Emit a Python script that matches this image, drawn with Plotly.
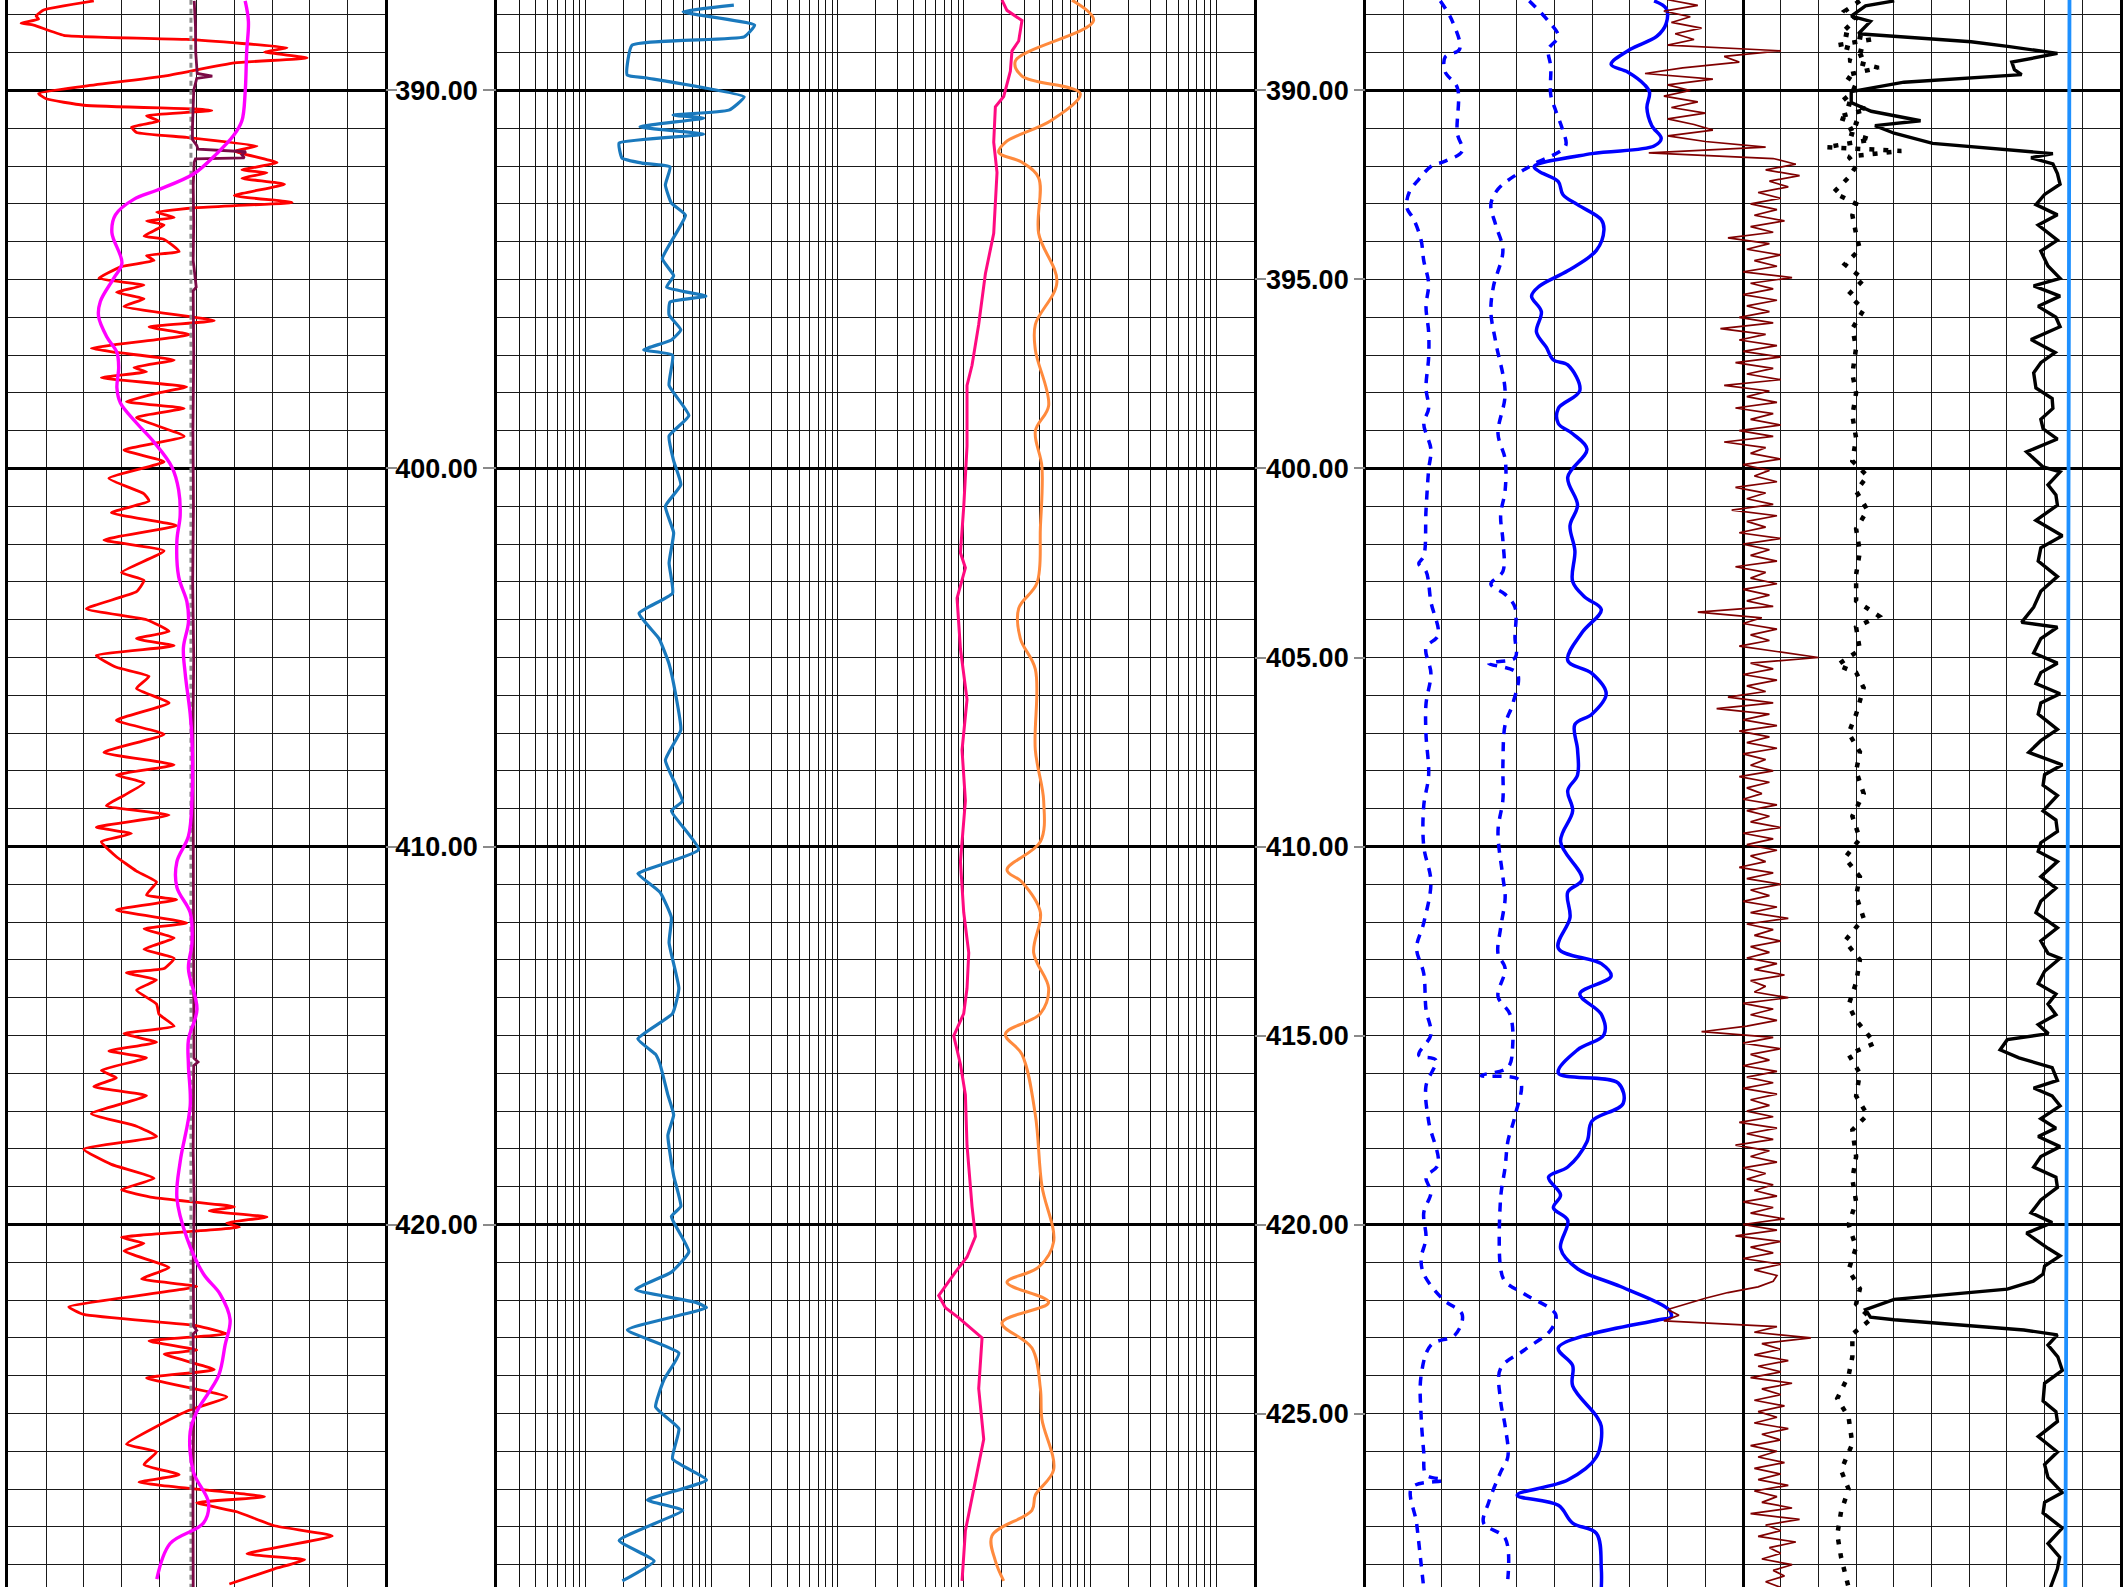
import plotly.graph_objects as go

# ---- depth track setup ----
top_depth = 387.606
bottom_depth = 429.59

# ---- track 1 (linear 0-150) ----
red_depth = [387.63, 387.87, 388.03, 388.11, 388.22, 388.27, 388.54, 388.65, 388.87, 388.98, 389.14, 389.27,
             389.62, 389.89, 390.08, 390.22, 390.39, 390.49, 390.53, 390.67, 390.81, 390.97, 391.11, 391.24,
             391.47, 391.60, 391.91, 392.10, 392.18, 392.32, 392.48, 392.78, 392.96, 393.10, 393.22, 393.36,
             393.45, 393.56, 393.85, 393.94, 394.26, 394.37, 394.50, 394.66, 394.97, 395.15, 395.34, 395.51,
             395.71, 396.09, 396.25, 396.46, 396.82, 396.93, 397.13, 397.33, 397.44, 397.60, 397.84, 398.01,
             398.23, 398.41, 398.65, 399.15, 399.51, 399.82, 400.26, 400.67, 400.86, 401.17, 401.51, 401.89,
             402.18, 402.75, 402.96, 403.26, 403.71, 404.00, 404.31, 404.50, 404.69, 404.95, 405.26, 405.50,
             405.82, 406.20, 406.66, 407.03, 407.51, 407.84, 408.11, 408.32, 408.65, 408.92, 409.17, 409.49,
             409.66, 409.87, 410.27, 410.65, 410.94, 411.28, 411.41, 411.68, 412.02, 412.18, 412.42, 412.72,
             412.96, 413.23, 413.34, 413.53, 413.80, 414.17, 414.44, 414.75, 414.95, 415.18, 415.41, 415.59,
             415.92, 416.12, 416.35, 416.59, 417.07, 417.40, 417.67, 418.01, 418.41, 418.78, 419.08, 419.29,
             419.53, 419.64, 419.80, 419.96, 420.07, 420.34, 420.50, 420.70, 421.14, 421.44, 421.64, 422.18,
             422.38, 422.68, 422.89, 423.08, 423.32, 423.43, 423.84, 424.06, 424.56, 424.94, 425.81, 426.02,
             426.35, 426.62, 426.82, 427.20, 427.36, 427.60, 427.97, 428.24, 428.71, 428.87, 429.11, 429.51]
red_gr = [34, 14, 11, 12, 5, 10, 22, 71, 111, 102, 119, 90,
          62, 30, 12, 15, 30, 74, 81, 55, 60, 49, 51, 71,
          99, 90, 107, 93, 103, 93, 110, 90, 113, 75, 59, 66,
          55, 62, 54, 62, 68, 55, 58, 45, 36, 54, 43, 54,
          46, 82, 56, 72, 33, 43, 66, 50, 55, 37, 71, 59,
          47, 70, 51, 70, 46, 62, 40, 54, 56, 41, 67, 38,
          62, 45, 54, 51, 31, 55, 64, 51, 66, 35, 43, 56,
          51, 64, 43, 62, 38, 66, 43, 54, 46, 39, 64, 35,
          49, 37, 43, 51, 59, 55, 67, 43, 71, 54, 66, 54,
          66, 62, 47, 59, 51, 59, 60, 66, 46, 59, 40, 55,
          37, 43, 34, 55, 33, 51, 59, 30, 41, 58, 45, 58,
          90, 80, 103, 87, 92, 45, 54, 46, 64, 53, 75, 24,
          30, 75, 87, 56, 75, 62, 82, 55, 87, 71, 47, 59,
          54, 68, 52, 102, 75, 91, 106, 129, 95, 118, 106, 88]

mag_depth = [387.63, 388.17, 388.98, 390.05, 390.80, 391.20, 391.67, 392.21, 392.64, 392.88, 393.29, 393.76,
             394.57, 394.97, 395.58, 395.98, 396.52, 396.93, 397.33, 397.87, 398.27, 398.81, 399.29, 399.96,
             400.57, 401.24, 401.91, 402.86, 403.53, 404.07, 404.74, 405.42, 406.50, 407.17, 408.76, 409.73,
             410.40, 411.08, 411.75, 412.56, 413.23, 414.31, 415.11, 415.79, 416.86, 418.34, 419.29, 420.36,
             421.31, 421.84, 422.52, 423.19, 424.00, 424.94, 425.48, 426.55, 427.36, 427.90, 428.44, 429.38]
mag_val = [94.3, 95.6, 94.9, 94.3, 93.0, 89.6, 83.0, 73.7, 59.1, 49.9, 42.6, 41.2,
           45.2, 41.9, 36.6, 35.9, 39.2, 43.2, 43.9, 43.2, 44.6, 51.2, 57.8, 65.1,
           67.8, 68.4, 67.1, 67.8, 71.1, 71.7, 69.7, 70.4, 72.4, 73.1, 73.1, 71.7,
           67.1, 67.1, 72.4, 73.1, 71.7, 75.1, 71.7, 71.7, 72.4, 68.4, 67.1, 71.1,
           77.7, 84.3, 88.3, 86.3, 83.7, 75.1, 72.4, 73.7, 79.7, 77.7, 64.4, 59.1]

cal_depth = [387.63, 388.30, 389.00, 389.55, 389.62, 389.68, 390.00, 390.50, 391.00, 391.30, 391.45, 391.55,
             391.60, 391.62, 391.70, 391.78, 391.81, 391.90, 392.50, 393.50, 394.50, 395.20, 395.30, 397.00,
             399.00, 401.00, 403.00, 405.00, 407.00, 409.00, 411.00, 413.00, 415.60, 415.70, 415.80, 418.00,
             419.50, 421.00, 422.70, 422.80, 422.90, 425.00, 427.00, 429.60]
cal_val = [74.0, 74.5, 74.6, 75.2, 81.2, 75.0, 73.8, 73.4, 73.3, 73.3, 75.0, 75.5,
           90.0, 94.6, 93.0, 94.0, 74.5, 74.0, 73.6, 73.8, 73.6, 74.8, 73.6, 73.8,
           73.5, 73.7, 73.4, 73.8, 73.5, 73.6, 73.8, 73.6, 73.9, 75.5, 73.8, 73.6,
           74.0, 73.6, 73.8, 75.0, 73.6, 73.8, 73.5, 73.6]

bit_depth = [387.6, 429.6]
bit_val = [72.7, 72.7]

# ---- track 2 (log 0.2 - 200000) ----
res_depth = [387.74, 387.92, 388.27, 388.58, 388.80, 389.59, 389.67, 390.17, 390.52, 390.65, 390.73, 390.96,
             391.16, 391.39, 391.79, 391.92, 392.02, 392.50, 392.98, 393.30, 394.45, 394.90, 395.20, 395.44,
             395.60, 395.94, 396.33, 396.60, 396.86, 397.00, 397.80, 398.60, 399.14, 399.80, 400.43, 401.00,
             401.70, 402.50, 403.30, 403.83, 404.50, 405.17, 406.00, 406.92, 407.72, 408.80, 409.06, 410.08,
             410.62, 410.72, 411.21, 411.88, 412.55, 413.75, 414.42, 415.09, 415.50, 415.76, 416.57, 417.10,
             417.64, 418.71, 419.52, 419.79, 420.72, 421.26, 421.72, 422.06, 422.20, 422.79, 423.40, 424.10,
             424.83, 425.40, 426.20, 426.76, 427.29, 427.56, 428.36, 428.90, 429.43]
res_val = [15.0, 5.94, 21.9, 18.1, 2.34, 2.14, 3.08, 18.1, 13.7, 4.95, 8.63, 2.71,
           8.63, 1.85, 1.95, 2.8, 4.68, 4.3, 4.8, 6.2, 4.07, 5.0, 4.4, 9.0,
           4.68, 4.6, 5.7, 4.8, 2.9, 4.9, 4.6, 6.6, 4.6, 5.0, 5.7, 4.3,
           5.0, 4.6, 4.9, 2.66, 3.83, 4.6, 5.2, 5.7, 4.3, 5.86, 4.8, 7.9,
           3.0, 2.6, 3.9, 4.8, 4.6, 5.5, 4.9, 2.6, 3.6, 3.9, 4.5, 5.0,
           4.5, 5.0, 5.7, 4.8, 6.6, 4.8, 2.5, 7.5, 9.1, 2.15, 5.5, 4.2,
           3.6, 5.5, 4.9, 9.1, 3.1, 5.9, 1.85, 3.5, 1.96]

pink_depth = [387.61, 387.88, 388.15, 388.69, 388.95, 389.49, 390.16, 390.43, 391.37, 392.17, 393.78, 394.85,
              396.19, 397.27, 397.80, 399.41, 401.02, 402.23, 402.63, 403.43, 404.77, 406.11, 407.45, 408.79,
              410.40, 411.74, 412.81, 413.75, 414.42, 415.01, 415.76, 416.57, 417.91, 419.52, 420.32, 420.86,
              421.26, 421.88, 422.20, 422.47, 423.00, 424.34, 425.68, 427.02, 428.10, 429.43]
pink_val = [2003, 2193, 2884, 2716, 2404, 2333, 2066, 1775, 1722, 1829, 1722, 1479,
            1309, 1159, 1058, 1058, 996, 938, 1027, 882, 938, 1058, 966, 1027,
            938, 996, 1092, 1058, 996, 830, 938, 1027, 1058, 1159, 1233, 1058,
            856, 631, 713, 910, 1392, 1309, 1435, 1196, 1027, 966]

orange_depth = [387.61, 388.15, 389.22, 389.62, 390.08, 390.78, 391.37, 391.64, 391.90, 392.31, 393.78, 395.07,
                396.19, 396.86, 398.34, 399.01, 399.95, 401.56, 403.03, 403.70, 404.50, 405.31, 407.45, 408.79,
                409.87, 410.62, 410.94, 411.74, 412.81, 413.75, 414.42, 414.96, 415.50, 417.10, 418.98, 420.46,
                421.13, 421.53, 422.06, 422.60, 423.27, 424.34, 425.15, 426.49, 427.16, 427.56, 428.23, 428.90,
                429.43]
orange_val = [7178, 10660, 2557, 2884, 8358, 4988, 2131, 1888, 2884, 3910, 3910, 5458,
              3681, 3681, 4692, 3681, 4151, 4036, 3793, 2716, 2800, 3681, 3681, 4285,
              4036, 2193, 2884, 4036, 3570, 4692, 4036, 2131, 2884, 3681, 4151, 5140,
              3910, 2193, 4692, 2003, 3460, 4036, 4151, 5140, 3681, 3460, 1670, 1775,
              2066]

# ---- tracks 3/4 (linear 0-20) ----
dash1_depth = [387.63, 388.17, 388.91, 389.11, 389.51, 389.92, 391.13, 391.60, 391.87, 392.01, 392.35, 392.68,
               393.09, 393.42, 393.96, 394.50, 395.11, 395.71, 396.39, 397.06, 397.87, 398.41, 398.81, 399.49,
               400.03, 401.11, 402.32, 402.52, 402.72, 403.53, 404.41, 404.74, 405.42, 406.23, 407.04, 408.11,
               408.92, 410.00, 410.94, 412.02, 412.69, 413.36, 414.31, 414.98, 415.52, 415.65, 416.33, 417.27,
               418.41, 418.75, 419.15, 419.69, 420.36, 420.90, 421.31, 421.98, 422.38, 422.92, 423.19, 424.00,
               425.07, 426.02, 426.62, 426.76, 426.96, 427.90, 428.98, 429.62]
dash1_val = [1.97, 2.29, 2.48, 2.10, 2.10, 2.42, 2.42, 2.55, 2.10, 1.72, 1.40, 1.15,
             1.08, 1.27, 1.46, 1.53, 1.66, 1.59, 1.66, 1.66, 1.59, 1.66, 1.53, 1.72,
             1.66, 1.59, 1.53, 1.40, 1.59, 1.72, 1.91, 1.59, 1.72, 1.59, 1.59, 1.66,
             1.53, 1.53, 1.72, 1.53, 1.34, 1.53, 1.59, 1.72, 1.40, 1.85, 1.59, 1.66,
             1.91, 1.59, 1.72, 1.53, 1.59, 1.46, 1.53, 2.04, 2.55, 2.36, 1.72, 1.46,
             1.46, 1.53, 1.59, 2.04, 1.21, 1.34, 1.46, 1.53]

dash2_depth = [387.63, 388.17, 388.57, 388.91, 389.38, 390.12, 390.53, 391.06, 391.47, 391.94, 392.21, 392.61,
               393.02, 393.56, 394.23, 395.18, 395.85, 396.66, 398.01, 399.08, 399.76, 400.57, 401.24, 401.91,
               402.72, 403.06, 403.33, 403.67, 404.47, 405.01, 405.15, 405.42, 406.23, 406.77, 407.84, 408.76,
               409.60, 410.81, 411.35, 412.15, 412.83, 413.23, 413.97, 414.44, 415.25, 415.85, 416.06, 416.19,
               417.13, 417.81, 418.48, 419.29, 421.17, 421.51, 421.84, 422.38, 422.79, 423.32, 423.80, 424.67,
               425.34, 426.15, 426.55, 427.36, 427.90, 428.30, 429.38]
dash2_val = [4.33, 4.84, 5.10, 4.84, 4.90, 4.90, 5.03, 5.22, 5.29, 4.46, 4.01, 3.50,
             3.31, 3.44, 3.63, 3.38, 3.31, 3.44, 3.69, 3.50, 3.69, 3.69, 3.57, 3.63,
             3.63, 3.31, 3.69, 3.95, 3.95, 3.95, 3.25, 4.01, 3.89, 3.69, 3.63, 3.63,
             3.50, 3.63, 3.69, 3.57, 3.50, 3.69, 3.50, 3.82, 3.89, 3.76, 3.06, 4.08,
             3.95, 3.76, 3.69, 3.57, 3.57, 3.69, 4.20, 5.03, 4.90, 4.20, 3.57, 3.57,
             3.69, 3.76, 3.57, 3.25, 3.12, 3.69, 3.76]

solid_depth = [387.63, 387.83, 388.23, 388.57, 388.91, 389.31, 389.51, 389.85, 390.05, 390.46, 390.93, 391.27,
               391.47, 391.67, 392.01, 392.14, 392.41, 392.75, 393.02, 393.42, 393.69, 394.23, 394.77, 395.18,
               395.44, 395.85, 396.39, 396.79, 397.13, 397.26, 397.94, 398.41, 398.81, 399.08, 399.49, 400.23,
               400.97, 401.51, 402.18, 402.99, 403.40, 403.73, 404.34, 405.08, 405.42, 405.96, 406.50, 406.77,
               407.44, 408.11, 408.52, 409.06, 409.87, 410.87, 411.21, 411.88, 412.69, 413.10, 413.43, 413.90,
               414.44, 414.98, 415.38, 415.99, 416.26, 416.80, 417.27, 417.81, 418.48, 418.75, 419.22, 419.56,
               419.89, 420.63, 421.17, 421.64, 422.25, 422.45, 422.52, 423.26, 423.73, 424.27, 425.07, 425.34,
               426.15, 426.76, 427.16, 427.43, 427.90, 428.17, 429.11, 429.62]
solid_val = [7.64, 7.96, 7.96, 7.71, 7.01, 6.50, 6.94, 7.39, 7.52, 7.45, 7.58, 7.83,
             7.64, 5.99, 4.46, 4.59, 5.10, 5.22, 5.61, 6.24, 6.31, 6.11, 5.35, 4.59,
             4.39, 4.65, 4.52, 4.78, 4.97, 5.35, 5.67, 5.10, 5.10, 5.48, 5.86, 5.35,
             5.61, 5.41, 5.54, 5.48, 5.80, 6.24, 5.73, 5.35, 5.99, 6.37, 5.99, 5.54,
             5.61, 5.61, 5.35, 5.48, 5.16, 5.73, 5.35, 5.41, 5.10, 6.24, 6.50, 5.67,
             6.24, 6.31, 5.61, 5.10, 6.69, 6.82, 5.99, 5.86, 5.35, 4.84, 5.16, 4.97,
             5.35, 5.16, 5.61, 6.75, 8.03, 8.09, 7.77, 5.10, 5.48, 5.48, 6.11, 6.24,
             6.11, 5.35, 4.01, 5.10, 5.48, 6.11, 6.24, 6.24]

# brown log, sampled every 0.15 m from 387.60
brown_top = 387.60
brown_step = 0.15
brown_val = [8.0, 8.8, 7.9, 8.6, 8.1, 8.9, 8.2, 8.7, 8.0, 11.0,
             9.5, 9.9, 8.4, 7.4, 9.2, 8.0, 8.6, 7.9, 8.8, 8.1,
             9.0, 8.0, 8.7, 9.2, 8.0, 9.0, 10.6, 7.5, 10.8, 11.4,
             10.6, 11.5, 10.7, 11.2, 10.4, 11.0, 10.2, 10.9, 10.3, 11.1,
             10.2, 10.8, 9.6, 10.7, 10.1, 11.0, 10.3, 10.9, 10.0, 11.3,
             10.2, 10.8, 10.0, 10.9, 10.1, 10.7, 9.9, 10.8, 9.4, 10.6,
             9.9, 10.9, 10.0, 11.0, 9.8, 10.8, 10.1, 11.0, 9.5, 10.7,
             10.1, 10.9, 9.8, 10.8, 10.2, 11.0, 9.9, 10.8, 9.5, 10.6,
             10.2, 11.0, 10.0, 10.7, 10.3, 10.9, 9.8, 10.6, 10.1, 10.8,
             9.7, 10.9, 10.1, 10.6, 9.9, 11.0, 10.0, 10.7, 10.2, 10.9,
             9.8, 10.6, 10.2, 10.9, 10.0, 10.7, 10.1, 10.8, 8.8, 10.5,
             10.0, 10.9, 10.2, 10.7, 9.9, 11.0, 12.0, 10.2, 10.8, 10.0,
             10.9, 10.1, 10.6, 9.6, 10.8, 9.3, 10.7, 10.0, 10.9, 9.9,
             10.7, 10.1, 10.9, 10.0, 10.6, 10.2, 10.8, 9.9, 10.7, 10.1,
             10.5, 10.0, 10.9, 10.1, 10.7, 10.2, 11.0, 10.0, 10.8, 10.1,
             10.9, 10.2, 10.6, 9.9, 10.8, 10.1, 11.0, 10.2, 10.7, 10.0,
             10.9, 10.2, 11.2, 10.1, 10.8, 10.3, 11.0, 10.2, 10.7, 10.1,
             10.9, 10.3, 11.1, 10.2, 10.6, 10.3, 11.2, 10.0, 10.8, 10.2,
             10.9, 10.1, 8.9, 10.8, 10.0, 11.0, 10.2, 10.7, 10.0, 10.9,
             10.1, 10.8, 10.0, 10.9, 10.2, 10.7, 10.1, 10.8, 9.9, 10.9,
             10.1, 10.8, 9.8, 10.7, 10.2, 10.9, 10.0, 10.6, 10.1, 10.8,
             10.3, 10.9, 10.0, 10.8, 10.2, 11.1, 10.0, 10.9, 9.8, 11.0,
             10.2, 10.8, 10.0, 11.0, 10.3, 10.9, 10.8, 10.4, 9.6, 9.0,
             8.5, 8.0, 8.3, 7.9, 10.9, 10.3, 11.8, 10.5, 11.0, 10.3,
             11.2, 10.4, 11.0, 10.2, 11.3, 10.5, 11.0, 10.3, 11.1, 10.4,
             10.9, 10.3, 11.2, 10.5, 11.0, 10.2, 10.9, 10.4, 11.1, 10.3,
             11.0, 10.4, 11.2, 10.3, 10.9, 10.5, 11.3, 10.2, 11.5, 10.6,
             11.0, 10.4, 11.4, 10.7, 11.0, 10.5, 11.3, 10.8, 11.1, 10.6,
             11.0]
brown_depth = [round(brown_top + i * brown_step, 2) for i in range(len(brown_val))]

dot_depth = [387.63, 387.90, 388.10, 388.50, 388.65, 388.80, 389.00, 389.20, 389.40, 389.60, 389.80, 390.05,
             390.30, 390.50, 390.70, 390.90, 391.10, 391.30, 391.50, 391.60, 391.75, 392.00, 392.30, 392.70,
             393.00, 393.30, 393.80, 394.20, 394.60, 395.00, 395.40, 395.80, 396.30, 396.80, 397.50, 398.00,
             398.60, 399.20, 399.80, 400.20, 400.60, 401.10, 401.60, 402.20, 402.80, 403.50, 403.90, 404.20,
             404.80, 405.20, 405.40, 405.80, 406.50, 407.00, 407.50, 408.00, 408.60, 409.20, 409.80, 410.30,
             410.80, 411.30, 411.90, 412.50, 413.00, 413.60, 414.20, 414.60, 415.20, 415.50, 416.00, 416.60,
             417.10, 417.50, 418.20, 418.80, 419.40, 420.00, 420.60, 421.20, 421.70, 422.10, 422.50, 422.90,
             423.50, 424.00, 424.60, 425.10, 425.80, 426.50, 427.00, 427.60, 428.20, 428.80, 429.60]
dot_val = [13.1, 12.7, 13.0, 12.6, 13.4, 12.5, 13.3, 12.8, 13.6, 12.7, 13.0, 12.9,
           12.6, 13.3, 12.5, 13.1, 12.7, 13.4, 12.2, 14.2, 12.8, 13.0, 12.8, 12.4,
           13.0, 12.9, 13.0, 13.1, 12.7, 13.2, 12.8, 13.2, 12.9, 13.0, 12.9, 13.0,
           12.9, 13.0, 12.9, 13.3, 13.0, 13.3, 13.0, 13.1, 13.0, 13.0, 13.6, 13.0,
           13.1, 12.5, 13.0, 13.2, 13.0, 12.8, 13.1, 13.0, 13.2, 12.9, 13.1, 12.7,
           13.1, 13.0, 13.2, 12.7, 13.1, 13.0, 12.8, 13.0, 13.5, 12.8, 13.1, 13.0,
           13.3, 12.9, 13.0, 12.9, 13.0, 12.8, 13.0, 12.8, 13.1, 13.0, 13.4, 12.9,
           12.9, 12.8, 12.5, 12.8, 12.9, 12.6, 12.8, 12.6, 12.5, 12.6, 12.8]

black_depth = [387.63, 387.76, 388.03, 388.17, 388.50, 388.71, 388.84, 389.02, 389.25, 389.45, 389.58, 389.78,
               390.03, 390.32, 390.55, 390.80, 390.93, 391.13, 391.40, 391.67, 391.78, 391.94, 392.20, 392.48,
               392.75, 393.02, 393.29, 393.56, 393.96, 394.25, 394.64, 394.97, 395.17, 395.44, 395.71, 396.00,
               396.25, 396.59, 396.93, 397.20, 397.47, 397.87, 398.15, 398.41, 398.70, 398.95, 399.22, 399.56,
               399.96, 400.09, 400.43, 400.70, 400.97, 401.37, 401.78, 402.10, 402.45, 402.86, 403.25, 403.67,
               404.07, 404.20, 404.50, 404.88, 405.15, 405.40, 405.69, 405.96, 406.20, 406.50, 406.90, 407.20,
               407.51, 407.84, 408.10, 408.38, 408.65, 409.06, 409.30, 409.60, 409.90, 410.13, 410.40, 410.80,
               411.10, 411.45, 411.75, 412.15, 412.50, 412.83, 412.96, 413.30, 413.63, 413.90, 414.17, 414.45,
               414.71, 414.95, 415.11, 415.38, 415.59, 415.85, 416.19, 416.39, 416.60, 416.86, 417.20, 417.45,
               417.67, 417.94, 418.20, 418.48, 418.75, 419.02, 419.35, 419.69, 419.95, 420.23, 420.63, 420.83,
               421.10, 421.31, 421.50, 421.71, 421.98, 422.25, 422.45, 422.52, 422.79, 422.92, 423.19, 423.50,
               423.86, 424.20, 424.67, 424.95, 425.21, 425.61, 426.02, 426.35, 426.69, 427.09, 427.35, 427.63,
               428.03, 428.44, 428.80, 429.11, 429.62]
black_val = [14.01, 13.25, 12.87, 13.38, 13.06, 16.05, 17.07, 18.34, 17.13, 17.20, 17.39, 14.27,
             12.87, 12.87, 13.40, 14.71, 13.50, 14.01, 15.03, 18.22, 17.64, 18.22, 18.34, 18.41,
             18.00, 17.77, 18.34, 17.83, 18.34, 17.90, 18.09, 18.41, 17.71, 18.41, 17.83, 18.30,
             18.41, 17.64, 18.28, 17.90, 17.71, 17.77, 18.20, 18.22, 17.90, 17.96, 18.34, 17.52,
             17.96, 18.41, 18.09, 18.30, 18.34, 17.77, 18.47, 17.90, 17.83, 18.34, 17.90, 17.71,
             17.39, 18.34, 17.90, 17.71, 18.34, 17.90, 17.77, 18.41, 17.90, 17.83, 18.34, 17.90,
             17.58, 18.47, 18.00, 17.96, 18.34, 17.96, 18.30, 18.34, 17.90, 17.83, 18.34, 17.90,
             18.30, 17.90, 17.77, 18.34, 17.90, 18.09, 18.41, 18.00, 17.83, 18.30, 18.09, 18.30,
             17.83, 18.10, 17.01, 16.82, 17.32, 18.20, 18.34, 17.71, 18.20, 18.41, 17.90, 18.30,
             17.83, 18.41, 17.90, 17.71, 18.30, 18.34, 17.90, 17.64, 18.20, 17.52, 18.09, 18.41,
             18.00, 17.96, 17.70, 17.01, 14.01, 13.25, 13.38, 14.01, 17.45, 18.34, 18.09, 18.35,
             18.47, 18.00, 17.96, 18.30, 18.34, 17.83, 18.34, 18.00, 18.09, 18.47, 18.00, 17.96,
             18.47, 18.09, 18.40, 18.34, 18.15]

ref_depth = [387.6, 408.0, 429.6]
ref_val = [18.66, 18.62, 18.55]

# depth labels
left_labels = [390, 400, 410, 420]
right_labels = [390, 395, 400, 405, 410, 415, 420, 425]

fig = go.Figure()

def add(x, y, ax, color, width, dash=None, shape='linear', smooth=None):
    ln = dict(color=color, width=width, dash=dash, shape=shape)
    if smooth is not None:
        ln['smoothing'] = smooth
    fig.add_trace(go.Scatter(x=x, y=y, mode='lines', xaxis=ax[0], yaxis=ax[1], showlegend=False,
                             line=ln, hoverinfo='skip'))

# track 1
add(red_gr, red_depth, ('x', 'y'), '#ff0000', 2.8, shape='spline', smooth=0.4)
add(bit_val, bit_depth, ('x', 'y'), '#8c8c8c', 3, dash='5px,4px')
add(cal_val, cal_depth, ('x', 'y'), '#7a0a46', 2.8)
add(mag_val, mag_depth, ('x', 'y'), '#ff00ff', 3.4, shape='spline')
# track 2
add(res_val, res_depth, ('x2', 'y2'), '#1a79bd', 3.2, shape='spline', smooth=0.4)
add(pink_val, pink_depth, ('x2', 'y2'), '#ff0a80', 3)
add(orange_val, orange_depth, ('x2', 'y2'), '#ff8a3d', 3, shape='spline')
# tracks 3/4
add(dash1_val, dash1_depth, ('x3', 'y3'), '#0000ff', 3.5, dash='9px,8px', shape='spline')
add(dash2_val, dash2_depth, ('x3', 'y3'), '#0000ff', 3.5, dash='9px,8px', shape='spline')
add(solid_val, solid_depth, ('x3', 'y3'), '#0000ff', 3.5, shape='spline')
add(brown_val, brown_depth, ('x3', 'y3'), '#800000', 1.7)
add(dot_val, dot_depth, ('x3', 'y3'), '#000000', 4.5, dash='5px,9px')
add(black_val, black_depth, ('x3', 'y3'), '#000000', 3.4)
add(ref_val, ref_depth, ('x3', 'y3'), '#1e90ff', 3.8)

# invisible anchors so the depth-tick axes are drawn
for xa, ya, ys in [('x', 'y4', left_labels), ('x2', 'y5', left_labels),
                   ('x2', 'y6', right_labels), ('x3', 'y7', right_labels)]:
    fig.add_trace(go.Scatter(x=[None] * len(ys), y=ys, mode='markers', xaxis=xa, yaxis=ya,
                             showlegend=False, hoverinfo='skip', marker=dict(opacity=0)))

W, H = 2123, 1587
yr = [bottom_depth, top_depth]
grid_minor = dict(dtick=1, showgrid=True, gridcolor='#1a1a1a', gridwidth=1, ticks='')
label_font = dict(family='Liberation Sans, Arial', size=27, color='black', weight='bold')

def y_grid(anchor):
    return dict(anchor=anchor, range=yr, dtick=10, tick0=0, showgrid=True, gridcolor='black', gridwidth=2.5,
                minor=grid_minor, showticklabels=False, ticks='', zeroline=False,
                showline=True, mirror=True, linecolor='black', linewidth=3)

def y_ticks(over, anchor, side, every, labels, ticklen):
    return dict(overlaying=over, anchor=anchor, side=side, range=yr, autorange=False, dtick=every, tick0=0,
                showgrid=False, zeroline=False, showline=False, ticks='outside', ticklen=ticklen,
                tickwidth=2, tickcolor='#8a8a8a', showticklabels=labels, tickformat='.2f',
                tickfont=label_font, visible=True)

fig.update_layout(
    width=W, height=H, margin=dict(l=0, r=0, t=0, b=0),
    paper_bgcolor='white', plot_bgcolor='white',
    xaxis=dict(domain=[8.5 / W, 385.5 / W], range=[0, 150], dtick=15, showgrid=True, gridcolor='#1a1a1a',
               gridwidth=1, showticklabels=False, ticks='', zeroline=False, showline=False),
    xaxis2=dict(domain=[498 / W, 1256 / W], type='log', range=[-0.69897, 5.30103], dtick='D1',
                showgrid=True, gridcolor='#111111', gridwidth=1, showticklabels=False, ticks='',
                zeroline=False, showline=False),
    xaxis3=dict(domain=[1368 / W, 1], range=[0, 20], dtick=10, showgrid=True, gridcolor='black', gridwidth=2.5,
                minor=dict(dtick=1, showgrid=True, gridcolor='#1a1a1a', gridwidth=1, ticks=''),
                showticklabels=False, ticks='', zeroline=False, showline=False),
    yaxis=y_grid('x'),
    yaxis2=y_grid('x2'),
    yaxis3=y_grid('x3'),
    yaxis4=y_ticks('y', 'x', 'right', 10, False, 11),
    yaxis5=y_ticks('y2', 'x2', 'left', 10, True, 13),
    yaxis6=y_ticks('y2', 'x2', 'right', 5, False, 11),
    yaxis7=y_ticks('y3', 'x3', 'left', 5, True, 11),
)

fig.write_html("out.html", config={'displayModeBar': False},
               post_script="document.body.style.margin='0px';")
